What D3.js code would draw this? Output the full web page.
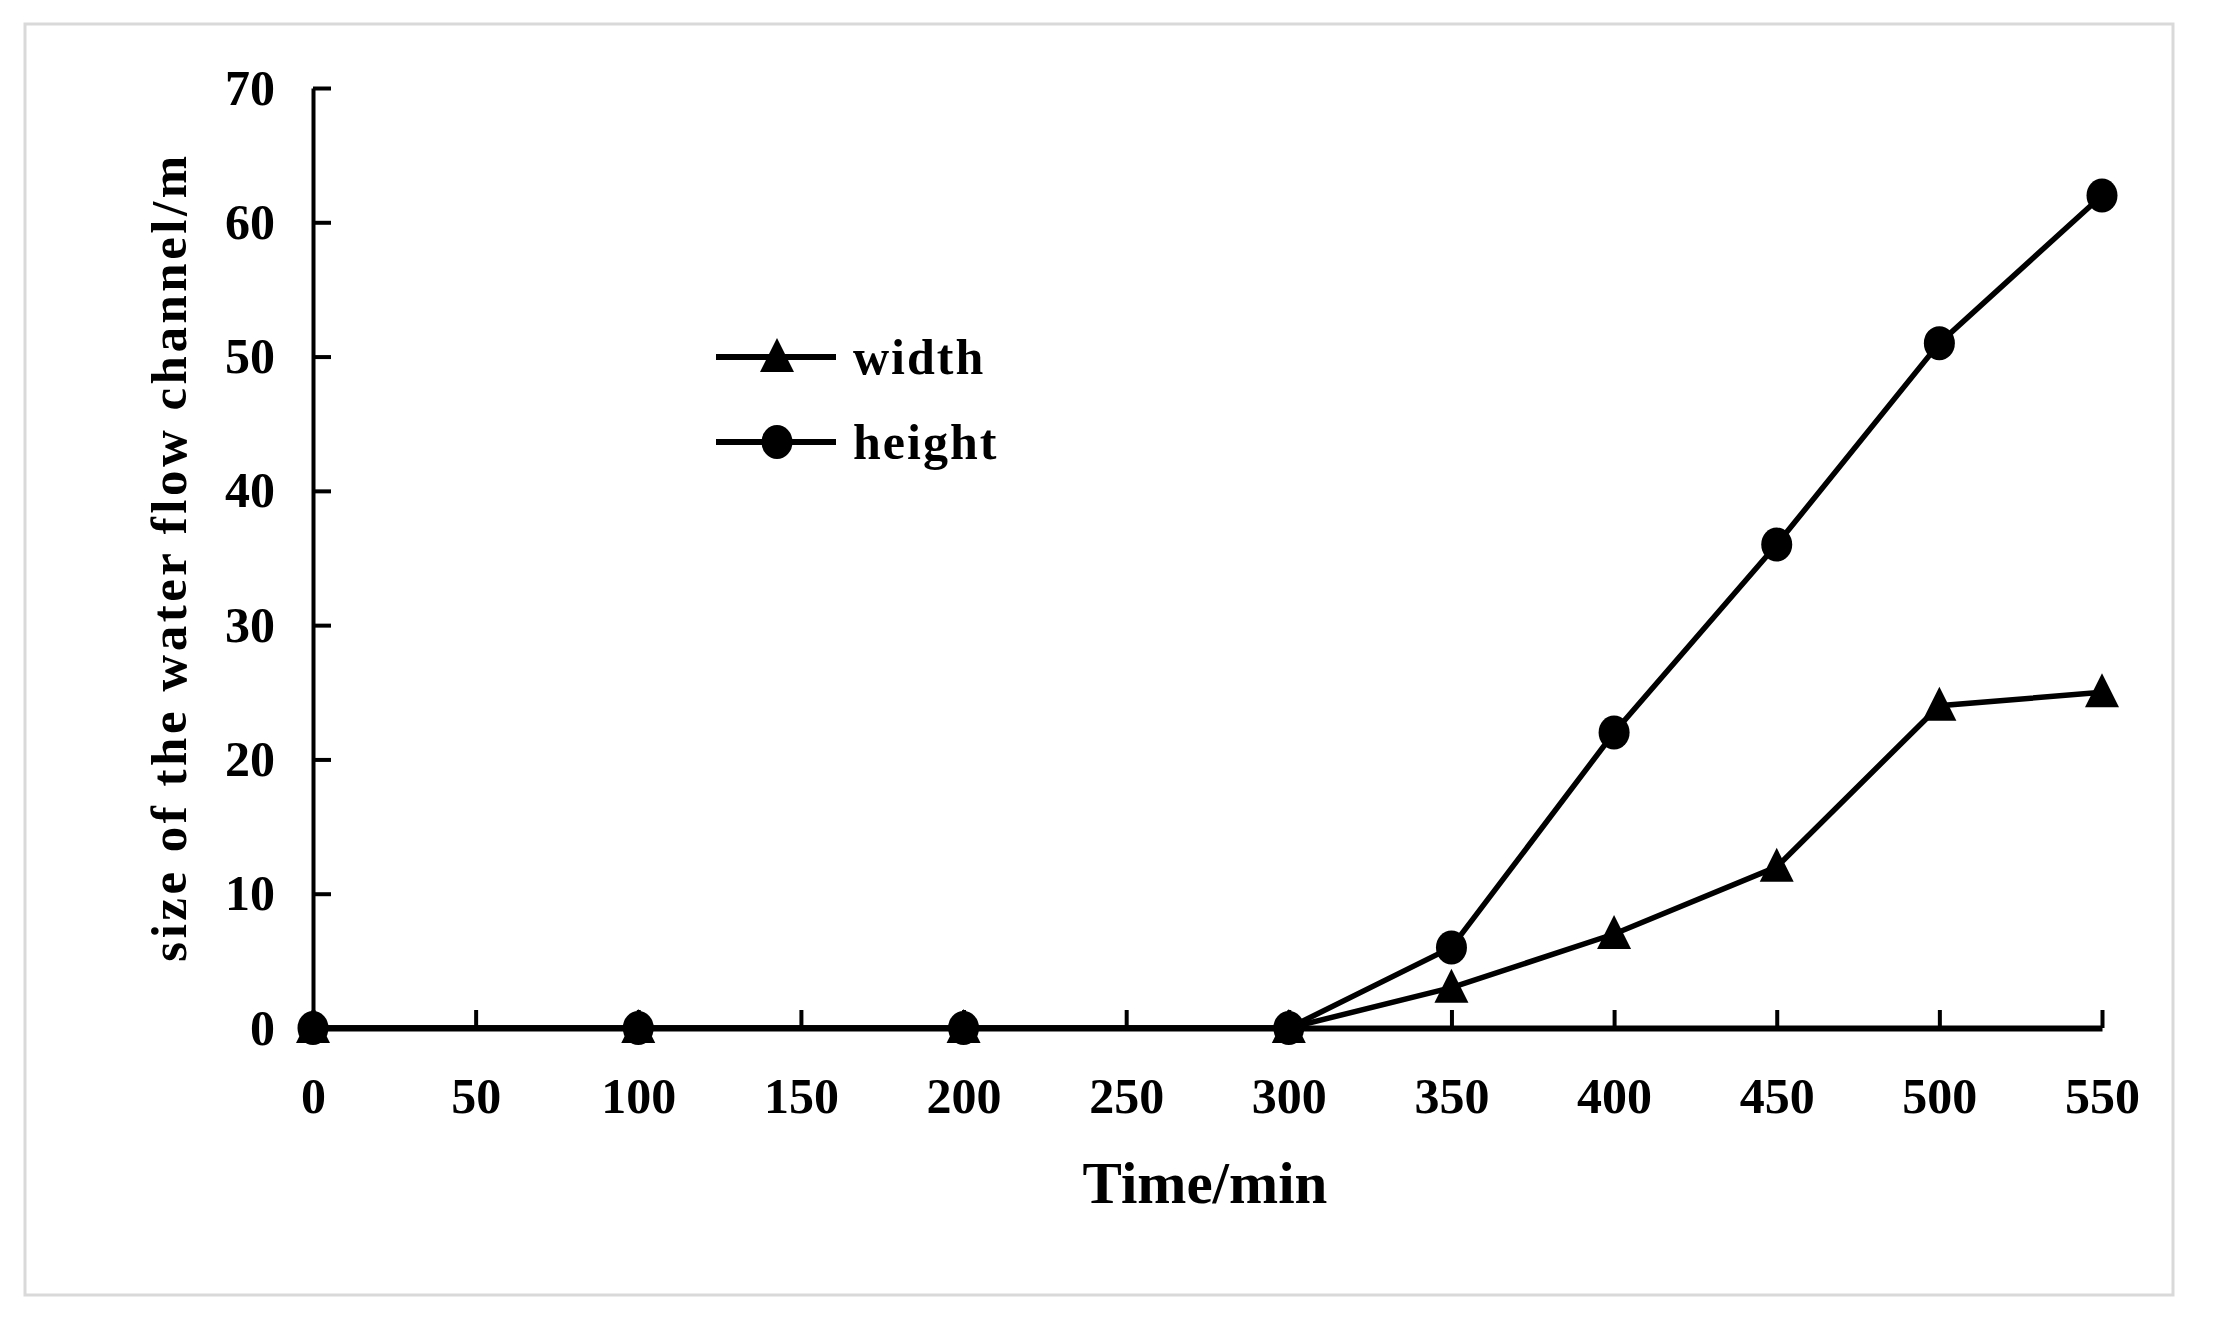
<!DOCTYPE html>
<html>
<head>
<meta charset="utf-8">
<script src="https://cdn.jsdelivr.net/npm/d3@7"></script>
<style>
  body { margin: 0; background: #fff; }
  text { font-family: "Liberation Serif", "Times New Roman", serif; font-weight: bold; fill: #000; }
</style>
</head>
<body>
<script>
var times = [0, 100, 200, 300, 350, 400, 450, 500, 550];
var widthValues = [0, 0, 0, 0, 3, 7, 12, 24, 25];
var heightValues = [0, 0, 0, 0, 6, 22, 36, 51, 62];
var xTicks = [0, 50, 100, 150, 200, 250, 300, 350, 400, 450, 500, 550];
var yTicks = [0, 10, 20, 30, 40, 50, 60, 70];
var seriesNames = ["width", "height"];

var WIDTH = 2215, HEIGHT = 1331;

var svg = d3.select("body").append("svg")
  .attr("width", WIDTH)
  .attr("height", HEIGHT);

// outer frame
svg.append("rect")
  .attr("x", 25).attr("y", 24)
  .attr("width", 2148).attr("height", 1271)
  .attr("fill", "none")
  .attr("stroke", "#d9d9d9")
  .attr("stroke-width", 3);

var x = d3.scaleLinear().domain([0, 550]).range([313, 2102]);
var y = d3.scaleLinear().domain([0, 70]).range([1028, 88]);

var xAxis = d3.axisBottom(x).tickValues(xTicks).tickSize(-18).tickSizeOuter(0);
var yAxis = d3.axisLeft(y).tickValues(yTicks).tickSize(-18).tickSizeOuter(0).tickPadding(38);

var gy = svg.append("g")
  .attr("transform", "translate(" + x(0) + ",0)")
  .call(yAxis);
gy.select(".domain").attr("stroke", "#000").attr("stroke-width", 4);
gy.selectAll(".tick line").attr("stroke", "#000").attr("stroke-width", 4);
gy.selectAll(".tick text").attr("font-size", 50).attr("fill", "#000")
  .attr("font-family", null);

var gx = svg.append("g")
  .attr("transform", "translate(0," + y(0) + ")")
  .call(xAxis);
gx.select(".domain").attr("stroke", "#000").attr("stroke-width", 6);
gx.selectAll(".tick line").attr("stroke", "#000").attr("stroke-width", 4);
gx.selectAll(".tick text").attr("font-size", 50).attr("fill", "#000")
  .attr("font-family", null)
  .attr("y", 85).attr("dy", 0);

// axis titles
svg.append("text")
  .attr("x", 1205).attr("y", 1203)
  .attr("text-anchor", "middle")
  .attr("font-size", 59)
  .text("Time/min");

svg.append("text")
  .attr("transform", "translate(186,557) rotate(-90)")
  .attr("text-anchor", "middle")
  .attr("font-size", 51)
  .attr("letter-spacing", 3.5)
  .text("size of the water flow channel/m");

var line = d3.line()
  .x(function (d) { return x(d.t); })
  .y(function (d) { return y(d.v); });

var triangle = "M0,-19L17,15L-17,15Z";

function seriesPoints(values) {
  return times.map(function (t, i) { return {t: t, v: values[i]}; });
}

var widthPts = seriesPoints(widthValues);
var heightPts = seriesPoints(heightValues);

svg.append("path")
  .attr("d", line(widthPts))
  .attr("fill", "none").attr("stroke", "#000").attr("stroke-width", 5.5);

svg.append("g").selectAll("path")
  .data(widthPts)
  .enter().append("path")
  .attr("d", triangle)
  .attr("transform", function (d) { return "translate(" + x(d.t) + "," + y(d.v) + ")"; })
  .attr("fill", "#000");

svg.append("path")
  .attr("d", line(heightPts))
  .attr("fill", "none").attr("stroke", "#000").attr("stroke-width", 5.5);

svg.append("g").selectAll("ellipse")
  .data(heightPts)
  .enter().append("ellipse")
  .attr("cx", function (d) { return x(d.t); })
  .attr("cy", function (d) { return y(d.v); })
  .attr("rx", 15.5).attr("ry", 17)
  .attr("fill", "#000");

// legend
var legend = svg.append("g");
seriesNames.forEach(function (name, i) {
  var ly = 357 + i * 85;
  legend.append("line")
    .attr("x1", 716).attr("x2", 836)
    .attr("y1", ly).attr("y2", ly)
    .attr("stroke", "#000").attr("stroke-width", 6);
  if (i == 0) {
    legend.append("path")
      .attr("d", triangle)
      .attr("transform", "translate(777," + ly + ")")
      .attr("fill", "#000");
  } else {
    legend.append("ellipse")
      .attr("cx", 777).attr("cy", ly).attr("rx", 15.5).attr("ry", 17)
      .attr("fill", "#000");
  }
  legend.append("text")
    .attr("x", 853).attr("y", ly + 17)
    .attr("font-size", 50)
    .attr("letter-spacing", 2)
    .text(name);
});
</script>
</body>
</html>
